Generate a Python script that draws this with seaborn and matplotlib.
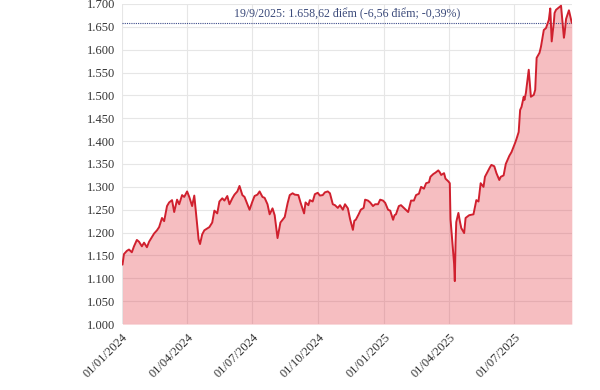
import pandas as pd
import matplotlib.pyplot as plt
import matplotlib.dates as mdates
import matplotlib.ticker as mticker
import seaborn as sns

# VN-Index closes (approx.)
dates_2024 = [
    '2024-01-02', '2024-01-04', '2024-01-08', '2024-01-11', '2024-01-15', '2024-01-18',
    '2024-01-22', '2024-01-25', '2024-01-29', '2024-02-01', '2024-02-05', '2024-02-08',
    '2024-02-15', '2024-02-19', '2024-02-22', '2024-02-26', '2024-02-29', '2024-03-04',
    '2024-03-07', '2024-03-11', '2024-03-14', '2024-03-18', '2024-03-21', '2024-03-25',
    '2024-03-28', '2024-04-01', '2024-04-04', '2024-04-08', '2024-04-11', '2024-04-15',
    '2024-04-17', '2024-04-19', '2024-04-22', '2024-04-25', '2024-05-02', '2024-05-06',
    '2024-05-09', '2024-05-13', '2024-05-16', '2024-05-20', '2024-05-23', '2024-05-27',
    '2024-05-30', '2024-06-03', '2024-06-06', '2024-06-10', '2024-06-13', '2024-06-17',
    '2024-06-20', '2024-06-24', '2024-06-27', '2024-07-01', '2024-07-04', '2024-07-08',
    '2024-07-11', '2024-07-15', '2024-07-18', '2024-07-22', '2024-07-25', '2024-07-29',
    '2024-08-01', '2024-08-05', '2024-08-07', '2024-08-09', '2024-08-12', '2024-08-15',
    '2024-08-19', '2024-08-22', '2024-08-26', '2024-08-29', '2024-09-03', '2024-09-06',
    '2024-09-09', '2024-09-11', '2024-09-13', '2024-09-17', '2024-09-19', '2024-09-23',
    '2024-09-26', '2024-09-30', '2024-10-03', '2024-10-07', '2024-10-10', '2024-10-14',
    '2024-10-17', '2024-10-21', '2024-10-24', '2024-10-28', '2024-10-31', '2024-11-04',
    '2024-11-07', '2024-11-11', '2024-11-14', '2024-11-18', '2024-11-20', '2024-11-22',
    '2024-11-26', '2024-11-29', '2024-12-03', '2024-12-05', '2024-12-09', '2024-12-12',
    '2024-12-16', '2024-12-19', '2024-12-23', '2024-12-26', '2024-12-30',
]
values_2024 = [
    1130, 1153, 1160, 1163, 1157, 1170,
    1184, 1180, 1170, 1178, 1168, 1180,
    1198, 1205, 1212, 1232, 1225, 1258,
    1266, 1271, 1245, 1272, 1262, 1282,
    1278, 1290, 1278, 1258, 1281, 1216,
    1185, 1175, 1196, 1205, 1212, 1222,
    1248, 1242, 1268, 1275, 1270, 1280,
    1262, 1275, 1283, 1290, 1302, 1282,
    1278, 1262, 1250, 1268, 1280, 1283,
    1290, 1278, 1276, 1262, 1240, 1253,
    1238, 1188, 1205, 1222, 1228, 1234,
    1264, 1282, 1286, 1283, 1282, 1266,
    1252, 1242, 1266, 1260, 1271, 1268,
    1284, 1287, 1281, 1282, 1288, 1290,
    1286, 1262, 1260, 1254, 1260, 1250,
    1262, 1253, 1230, 1206, 1226, 1228,
    1240, 1250, 1254, 1272, 1270, 1266,
    1258, 1262, 1262, 1272, 1270,
]

dates_2025 = [
    '2025-01-02', '2025-01-06', '2025-01-09', '2025-01-13', '2025-01-15', '2025-01-17',
    '2025-01-21', '2025-01-24', '2025-02-03', '2025-02-05', '2025-02-07', '2025-02-11',
    '2025-02-14', '2025-02-18', '2025-02-21', '2025-02-25', '2025-02-28', '2025-03-04',
    '2025-03-06', '2025-03-10', '2025-03-13', '2025-03-17', '2025-03-19', '2025-03-21',
    '2025-03-25', '2025-03-27', '2025-03-31', '2025-04-02', '2025-04-03', '2025-04-04',
    '2025-04-08', '2025-04-09', '2025-04-10', '2025-04-11', '2025-04-14', '2025-04-16',
    '2025-04-18', '2025-04-22', '2025-04-24', '2025-04-29', '2025-05-05', '2025-05-07',
    '2025-05-09', '2025-05-12', '2025-05-15', '2025-05-19', '2025-05-21', '2025-05-26',
    '2025-05-28', '2025-05-30', '2025-06-03', '2025-06-06', '2025-06-10', '2025-06-12',
    '2025-06-16', '2025-06-19', '2025-06-24', '2025-06-27', '2025-07-02', '2025-07-04',
    '2025-07-07', '2025-07-09', '2025-07-11', '2025-07-14', '2025-07-15', '2025-07-17',
    '2025-07-21', '2025-07-24', '2025-07-28', '2025-07-30', '2025-08-01', '2025-08-05',
    '2025-08-07', '2025-08-11', '2025-08-14', '2025-08-18', '2025-08-20', '2025-08-22',
    '2025-08-25', '2025-08-26', '2025-08-28', '2025-09-04', '2025-09-08', '2025-09-09',
    '2025-09-11', '2025-09-15', '2025-09-17', '2025-09-19',
]
values_2025 = [
    1265, 1250, 1248, 1228, 1238, 1240,
    1258, 1260, 1245, 1258, 1270, 1270,
    1282, 1285, 1300, 1296, 1308, 1310,
    1322, 1328, 1331, 1336, 1332, 1326,
    1330, 1318, 1312, 1308, 1229, 1210,
    1132, 1094, 1175, 1223, 1243, 1225,
    1210, 1199, 1232, 1238, 1240, 1255,
    1271, 1268, 1308, 1300, 1322, 1337,
    1343, 1348, 1345, 1330, 1315, 1322,
    1325, 1350, 1368, 1376, 1396, 1405,
    1420, 1468, 1475, 1497, 1490, 1505,
    1556, 1497, 1501, 1512, 1582, 1593,
    1606, 1643, 1647, 1665, 1690, 1618,
    1660, 1680, 1687, 1696, 1626, 1636,
    1667, 1686, 1672, 1658.62,
]

last_close = 1658.62
note = '19/9/2025: 1.658,62 điểm (-6,56 điểm; -0,39%)'
x_ticks = ['2024-01-01', '2024-04-01', '2024-07-01', '2024-10-01',
           '2025-01-01', '2025-04-01', '2025-07-01']

df = pd.DataFrame({
    'date': pd.to_datetime(dates_2024 + dates_2025),
    'close': values_2024 + values_2025,
})

sns.set_theme(style='whitegrid')
plt.rcParams['font.family'] = ['Liberation Serif', 'DejaVu Serif']

fig = plt.figure(figsize=(6, 3.9), dpi=100)
ax = fig.add_axes([0.203, 0.169, 0.750, 0.821])

# semi-transparent fill so the grid shows through like the original
ax.fill_between(df['date'], df['close'], 1000, color='#e5414b', alpha=0.34,
                linewidth=0, zorder=1)
sns.lineplot(data=df, x='date', y='close', ax=ax, color='#d0202e', linewidth=1.4, zorder=3)

ax.axhline(last_close, color='#3b4a8a', linestyle=(0, (1, 1)), linewidth=0.8, zorder=2)
ax.text(0.5, 0.988, note, transform=ax.transAxes, ha='center', va='top',
        fontsize=8.6, color='#3b4a7a')

ax.set_ylim(1000, 1700)
ax.set_xlim(pd.Timestamp('2024-01-01'), pd.Timestamp('2025-09-19'))
ax.yaxis.set_major_locator(mticker.MultipleLocator(50))
ax.yaxis.set_major_formatter(mticker.FuncFormatter(lambda v, p: f'{int(v):,}'.replace(',', '.')))
ax.set_xticks(pd.to_datetime(x_ticks))
ax.xaxis.set_major_formatter(mdates.DateFormatter('%d/%m/%Y'))
for lab in ax.get_xticklabels():
    lab.set_rotation(45)
    lab.set_ha('right')
    lab.set_va('top')
    lab.set_rotation_mode('anchor')

ax.tick_params(axis='both', labelsize=9, colors='#333333', length=0, pad=5)
ax.set_axisbelow(True)
ax.grid(True, color='#e6e6e6', linewidth=0.8)
ax.set_xlabel('')
ax.set_ylabel('')
for s in ax.spines.values():
    s.set_visible(False)

fig.savefig('out.png', dpi=100, facecolor='white')
